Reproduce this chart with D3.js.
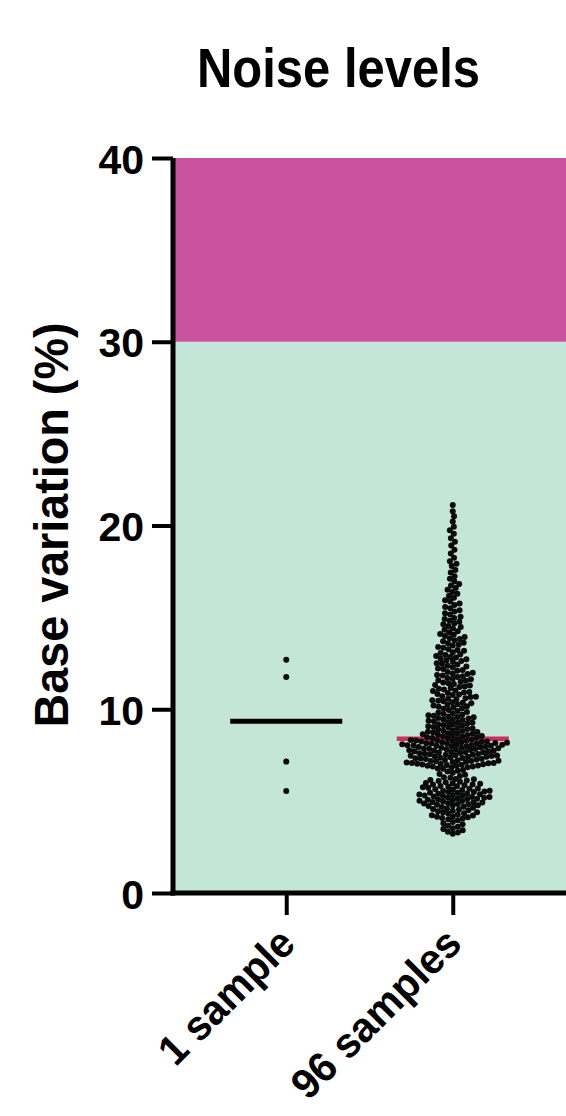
<!DOCTYPE html>
<html lang="en">
<head>
<meta charset="utf-8">
<script src="https://cdnjs.cloudflare.com/ajax/libs/d3/7.8.5/d3.min.js"></script>
<style>
  html, body { margin: 0; padding: 0; background: #ffffff; }
  svg { display: block; }
  text { font-family: "Liberation Sans", Arial, Helvetica, sans-serif; font-weight: bold; fill: #000; }
</style>
</head>
<body>
<svg id="chart"></svg>
<script>
// categories + values
var categories = ["1 sample", "96 samples"];
var yTicks = [0, 10, 20, 30, 40];
var zoneLimits = [0, 30, 40];            // green zone 0-30, magenta zone 30-40
var medians = [9.35, 8.4];

var oneSample = [12.7, 11.75, 7.15, 5.55];

var manySamples = [
  3.22, 3.29, 3.33, 3.41, 3.48, 3.53, 3.61, 3.66, 3.74, 3.8, 3.87, 3.96,
  4.02, 4.06, 4.08, 4.12, 4.15, 4.17, 4.22, 4.23, 4.27, 4.32, 4.34, 4.38, 4.4, 4.45, 4.47, 4.5, 4.55,
  4.57, 4.6, 4.64, 4.68, 4.7, 4.73, 4.76, 4.77, 4.8, 4.83, 4.85, 4.87, 4.89, 4.92, 4.93, 4.95, 4.98,
  5.01, 5.02, 5.05, 5.08, 5.09, 5.12, 5.13, 5.16, 5.18, 5.19, 5.22, 5.23, 5.25, 5.28, 5.3, 5.31, 5.34,
  5.36, 5.37, 5.4, 5.42, 5.45, 5.46, 5.49, 5.5, 5.53, 5.56, 5.57, 5.6, 5.63, 5.64, 5.68, 5.69, 5.73,
  5.75, 5.78, 5.81, 5.82, 5.86, 5.9, 5.91, 5.95, 5.97, 5.99,
  6.03, 6.05, 6.09, 6.12, 6.15, 6.19, 6.21, 6.27, 6.3, 6.37, 6.43, 6.47, 6.55, 6.61, 6.65, 6.7,
  6.76, 6.78, 6.83, 6.84, 6.88, 6.89, 6.92, 6.93, 6.94, 6.97, 6.98, 6.99,
  7.01, 7.02, 7.04, 7.06, 7.07, 7.08, 7.1, 7.13, 7.14, 7.16, 7.18, 7.19, 7.2, 7.23, 7.24, 7.26, 7.29,
  7.3, 7.32, 7.33, 7.35, 7.36, 7.39, 7.41, 7.42, 7.44, 7.45, 7.47, 7.48, 7.5, 7.52, 7.53, 7.55, 7.56,
  7.58, 7.61, 7.62, 7.64, 7.66, 7.67, 7.68, 7.7, 7.72, 7.74, 7.76, 7.77, 7.78, 7.8, 7.82, 7.84, 7.85,
  7.87, 7.88, 7.9, 7.91, 7.93, 7.95, 7.96, 7.98, 7.99,
  8.01, 8.02, 8.03, 8.04, 8.06, 8.07, 8.09, 8.1, 8.12, 8.13, 8.14, 8.15, 8.17, 8.18, 8.2, 8.21, 8.22,
  8.24, 8.25, 8.27, 8.28, 8.3, 8.31, 8.33, 8.36, 8.38,
  8.41, 8.43, 8.46, 8.47, 8.5, 8.53, 8.54, 8.57, 8.6, 8.61, 8.64, 8.66, 8.69, 8.7, 8.73, 8.76, 8.78,
  8.81, 8.83, 8.86, 8.9, 8.92, 8.95, 8.98,
  9.02, 9.04, 9.08, 9.11, 9.13, 9.17, 9.19, 9.22, 9.26, 9.28, 9.31, 9.35, 9.37, 9.41, 9.43, 9.46, 9.5,
  9.52, 9.56, 9.58, 9.61, 9.65, 9.67, 9.71, 9.74, 9.77, 9.82, 9.85, 9.9, 9.96,
  10.03, 10.05, 10.1, 10.13, 10.16, 10.21, 10.24, 10.27, 10.32, 10.35, 10.38, 10.43, 10.46, 10.49,
  10.55, 10.57, 10.6, 10.66, 10.68, 10.71, 10.77, 10.8, 10.83, 10.88, 10.91, 10.94, 10.99,
  11.02, 11.08, 11.11, 11.15, 11.21, 11.24, 11.29, 11.32, 11.38, 11.41, 11.46, 11.49, 11.55, 11.58,
  11.63, 11.66, 11.7, 11.76, 11.79, 11.84, 11.86, 11.92, 11.95, 11.98,
  12.03, 12.1, 12.13, 12.19, 12.22, 12.29, 12.33, 12.37, 12.43, 12.47, 12.51, 12.58, 12.62, 12.65,
  12.72, 12.75, 12.81, 12.84, 12.9, 12.95, 12.98,
  13.06, 13.1, 13.18, 13.23, 13.27, 13.35, 13.39, 13.47, 13.51, 13.59, 13.62, 13.7, 13.74, 13.82,
  13.86, 13.93, 13.98,
  14.05, 14.1, 14.19, 14.24, 14.33, 14.39, 14.48, 14.53, 14.62, 14.67, 14.76, 14.81, 14.91, 14.96,
  15.04, 15.15, 15.22, 15.32, 15.39, 15.5, 15.57, 15.68, 15.75, 15.86, 15.93,
  16.07, 16.16, 16.29, 16.38, 16.51, 16.6, 16.73, 16.82, 16.95,
  17.1, 17.24, 17.44, 17.58, 17.79, 17.92,
  18.06, 18.24, 18.47, 18.68, 18.91,
  19.12, 19.31, 19.55, 19.74, 19.93,
  20.22, 20.5, 20.78, 21.12
];

var width = 566, height = 1116;
var plotLeft = 173, plotRight = 566, plotTop = 158, plotBottom = 893;

var svg = d3.select("#chart").attr("width", width).attr("height", height);

var y = d3.scaleLinear().domain([0, 40]).range([plotBottom, plotTop]);
var x = d3.scalePoint().domain(categories).range([plotLeft, plotRight]).padding(0.68);

// background zones
var zoneColors = ["#c4e6d9", "#c9529f"];
svg.selectAll("rect.zone")
  .data(d3.pairs(zoneLimits))
  .enter().append("rect")
  .attr("class", "zone")
  .attr("x", plotLeft)
  .attr("width", plotRight - plotLeft)
  .attr("y", function(d) { return y(d[1]); })
  .attr("height", function(d) { return y(d[0]) - y(d[1]); })
  .attr("fill", function(d, i) { return zoneColors[i]; });

// simple greedy beeswarm: put each dot as near to the centre as it fits
var r = 3.0, gap = 5.3;
function swarm(values) {
  var placed = [];
  values.slice().sort(d3.ascending).forEach(function(v) {
    var py = y(v);
    var near = placed.filter(function(p) { return Math.abs(p.y - py) < gap; });
    var cands = [0];
    near.forEach(function(p) {
      var dx = Math.sqrt(gap * gap - (p.y - py) * (p.y - py));
      cands.push(p.x + dx, p.x - dx);
    });
    cands.sort(function(a, b) { return Math.abs(a) - Math.abs(b); });
    var best = cands.find(function(c) {
      return near.every(function(p) {
        return (p.x - c) * (p.x - c) + (p.y - py) * (p.y - py) >= gap * gap - 0.01;
      });
    });
    placed.push({ x: best, y: py, v: v });
  });
  return placed;
}

// median lines
var halfLen = 56;
svg.selectAll("line.median")
  .data(categories)
  .enter().append("line")
  .attr("class", "median")
  .attr("x1", function(d) { return x(d) - halfLen; })
  .attr("x2", function(d) { return x(d) + halfLen; })
  .attr("y1", function(d, i) { return y(medians[i]); })
  .attr("y2", function(d, i) { return y(medians[i]); })
  .attr("stroke", function(d, i) { return i == 0 ? "#000" : "#c8305e"; })
  .attr("stroke-width", function(d, i) { return i == 0 ? 5 : 4.5; });

var groups = [oneSample, manySamples];
groups.forEach(function(vals, i) {
  var cx = x(categories[i]);
  var pts = i == 0 ? vals.map(function(v) { return { x: 0, y: y(v) }; }) : swarm(vals);
  svg.append("g").selectAll("circle")
    .data(pts)
    .enter().append("circle")
    .attr("cx", function(d) { return cx + d.x; })
    .attr("cy", function(d) { return d.y; })
    .attr("r", r)
    .attr("fill", "#0a0a0a");
});

// keep the black median above its dots
svg.selectAll("line.median").filter(function(d, i) { return i == 0; }).raise();

// axes
var yAxis = d3.axisLeft(y).tickValues(yTicks).tickSize(21).tickPadding(8);
var gy = svg.append("g").attr("transform", "translate(" + plotLeft + ",0)").call(yAxis);
var xAxis = d3.axisBottom(x).tickSize(22).tickFormat("");
var gx = svg.append("g").attr("transform", "translate(0," + plotBottom + ")").call(xAxis);

[gy, gx].forEach(function(g) {
  g.select(".domain").attr("stroke", "#000").attr("stroke-width", 5)
    .attr("d", g === gy ? "M0," + (plotBottom + 2.5) + "V" + plotTop : "M" + (plotLeft - 2.5) + ",0H" + plotRight);
  g.selectAll(".tick line").attr("stroke", "#000").attr("stroke-width", 4);
});
gy.selectAll(".tick text")
  .attr("font-size", 41)
  .attr("font-family", "'Liberation Sans', Arial, sans-serif")
  .attr("font-weight", "bold")
  .attr("fill", "#000")
  .attr("dy", "0.37em");

// rotated category labels
var labelLen = [172, 220];
svg.selectAll("text.cat")
  .data(categories)
  .enter().append("text")
  .attr("class", "cat")
  .attr("transform", function(d) { return "translate(" + (x(d) + 11) + ",946) rotate(-45)"; })
  .attr("text-anchor", "end")
  .attr("font-size", 42)
  .attr("textLength", function(d, i) { return labelLen[i]; })
  .attr("lengthAdjust", "spacingAndGlyphs")
  .text(function(d) { return d; });

// y title
svg.append("text")
  .attr("transform", "translate(68,525) rotate(-90)")
  .attr("text-anchor", "middle")
  .attr("font-size", 49)
  .attr("textLength", 405)
  .attr("lengthAdjust", "spacingAndGlyphs")
  .text("Base variation (%)");

// chart title
svg.append("text")
  .attr("x", 338.5)
  .attr("y", 87)
  .attr("text-anchor", "middle")
  .attr("font-size", 56)
  .attr("textLength", 283)
  .attr("lengthAdjust", "spacingAndGlyphs")
  .text("Noise levels");
</script>
</body>
</html>
